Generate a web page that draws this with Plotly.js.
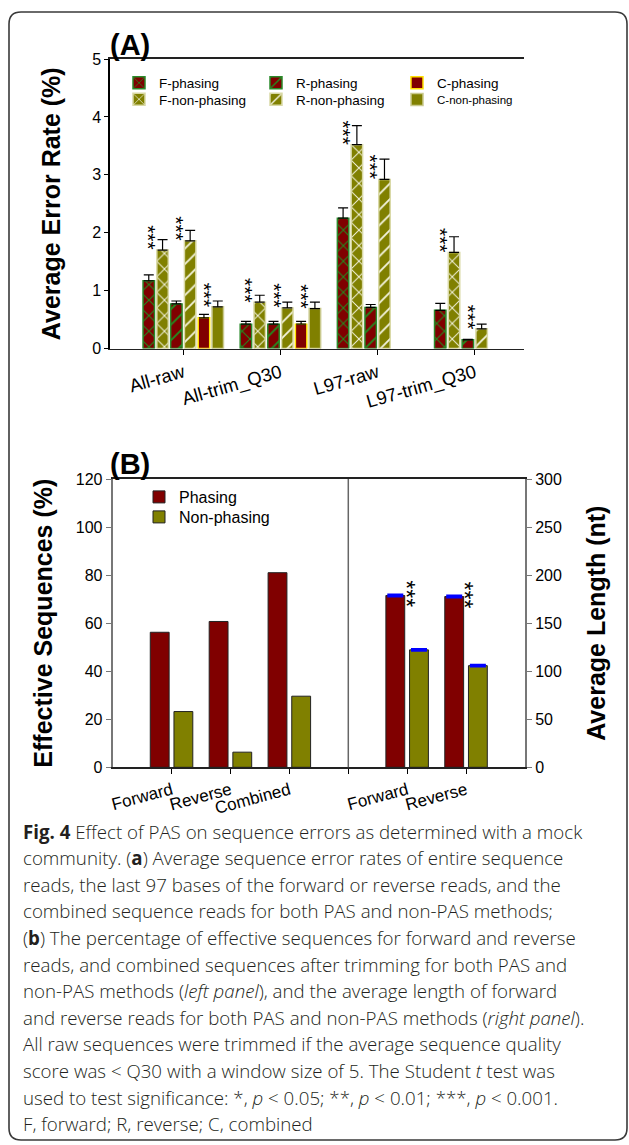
<!DOCTYPE html>
<html><head><meta charset="utf-8">
<script src="https://cdn.plot.ly/plotly-3.0.1.min.js"></script>
<style>html,body{margin:0;padding:0;background:#fff}</style>
</head><body><div id="chart" style="width:629px;height:1145px"></div>
<script>
// ---------- Panel A data ----------
const groupsA = ['All-raw', 'All-trim_Q30', 'L97-raw', 'L97-trim_Q30'];
const fPhasing = [1.17, 0.42, 2.25, 0.66];
const fPhasingErr = [0.10, 0.05, 0.18, 0.12];
const fNonPhasing = [1.70, 0.80, 3.52, 1.66];
const fNonPhasingErr = [0.18, 0.12, 0.33, 0.27];
const rPhasing = [0.77, 0.42, 0.71, 0.15];
const rPhasingErr = [0.05, 0.05, 0.05, 0.01];
const rNonPhasing = [1.86, 0.70, 2.92, 0.34];
const rNonPhasingErr = [0.18, 0.10, 0.35, 0.08];
const cPhasing = [0.53, 0.42, null, null];
const cPhasingErr = [0.06, 0.05, null, null];
const cNonPhasing = [0.72, 0.69, null, null];
const cNonPhasingErr = [0.10, 0.11, null, null];
const sigFNon = ['***', '***', '***', '***'];
const sigRNon = ['***', '***', '***', '***'];
const sigCNon = ['***', '***', '', ''];

// ---------- Panel B data ----------
const catsEff = ['Forward', 'Reverse', 'Combined'];
const effPhasing = [56.2, 60.7, 81.0];
const effNonPhasing = [23.2, 6.3, 29.6];
const catsLen = ['Forward', 'Reverse'];
const lenPhasing = [178.8, 177.7];
const lenPhasingErr = [1.0, 1.0];
const lenNonPhasing = [122.2, 105.8];
const lenNonPhasingErr = [1.0, 1.0];
const sigLen = ['***', '***'];

// ---------- Caption ----------
const captionLines = [
  '<b>Fig. 4</b> Effect of PAS on sequence errors as determined with a mock',
  'community. (<b>a</b>) Average sequence error rates of entire sequence',
  'reads, the last 97 bases of the forward or reverse reads, and the',
  'combined sequence reads for both PAS and non-PAS methods;',
  '(<b>b</b>) The percentage of effective sequences for forward and reverse',
  'reads, and combined sequences after trimming for both PAS and',
  'non-PAS methods (<i>left panel</i>), and the average length of forward',
  'and reverse reads for both PAS and non-PAS methods (<i>right panel</i>).',
  'All raw sequences were trimmed if the average sequence quality',
  'score was &lt; Q30 with a window size of 5. The Student <i>t</i> test was',
  'used to test significance: *, <i>p</i> &lt; 0.05; **, <i>p</i> &lt; 0.01; ***, <i>p</i> &lt; 0.001.',
  'F, forward; R, reverse; C, combined'
];

// ---------- helpers ----------
const W = 629, H = 1145;
const X = px => px / W;
const Y = py => 1 - py / H;
const FONT = 'Liberation Sans, Arial, sans-serif';
const RED = '#800000', OLIVE = '#808000';

const pitchA = 0.142, widthA = 0.118;
const xA = groupsA.map((_, i) => i);
const slotCenter = k => (k - 2.5) * pitchA;

function barA(name, vals, errs, k, legendId, fill, patShape, patColor, lineColor) {
  const t = {
    type: 'bar', name: name, x: xA, y: vals, xaxis: 'x', yaxis: 'y',
    width: widthA, offset: slotCenter(k) - widthA / 2,
    legend: legendId,
    marker: { color: fill, line: { color: lineColor, width: 1.5 } },
    error_y: { type: 'data', array: errs, arrayminus: vals.map(v => 0), symmetric: false,
               color: '#000', thickness: 1.2, width: 5 },
    hoverinfo: 'name+y'
  };
  if (patShape) {
    t.marker.pattern = { shape: patShape, fgcolor: patColor, bgcolor: fill, size: 11, solidity: 0.17, fillmode: 'replace' };
  }
  return t;
}

const traces = [
  barA('F-phasing', fPhasing, fPhasingErr, 0, 'legend', RED, 'x', '#1f8f1f', '#2a8a2a'),
  barA('F-non-phasing', fNonPhasing, fNonPhasingErr, 1, 'legend2', OLIVE, 'x', '#f4f4e0', '#d9d9a6'),
  barA('R-phasing', rPhasing, rPhasingErr, 2, 'legend3', RED, '/', '#1f8f1f', '#2a8a2a'),
  barA('R-non-phasing', rNonPhasing, rNonPhasingErr, 3, 'legend4', OLIVE, '/', '#f4f4e0', '#d9d9a6'),
  barA('C-phasing', cPhasing, cPhasingErr, 4, 'legend5', RED, null, null, '#ffe100'),
  barA('C-non-phasing', cNonPhasing, cNonPhasingErr, 5, 'legend6', OLIVE, null, null, '#c9c98e')
];

// Panel B
const xEff = catsEff.map((_, i) => i);
const dividerX = catsEff.length;
const xLen = catsLen.map((_, i) => dividerX + 1 + i);
const widthB = 0.32;
traces.push(
  { type: 'bar', name: 'Phasing', x: xEff, y: effPhasing, xaxis: 'x2', yaxis: 'y2',
    width: widthB, offset: -0.362, legend: 'legend7', legendgroup: 'ph',
    marker: { color: RED, line: { color: '#222', width: 1 } } },
  { type: 'bar', name: 'Non-phasing', x: xEff, y: effNonPhasing, xaxis: 'x2', yaxis: 'y2',
    width: widthB, offset: 0.04, legend: 'legend8', legendgroup: 'np',
    marker: { color: OLIVE, line: { color: '#222', width: 1 } } },
  { type: 'bar', name: 'Phasing', x: xLen, y: lenPhasing, xaxis: 'x2', yaxis: 'y3',
    width: widthB, offset: -0.362, showlegend: false, legendgroup: 'ph',
    marker: { color: RED, line: { color: '#222', width: 1 } },
    error_y: { type: 'data', array: lenPhasingErr, color: '#0000ff', thickness: 2, width: 8 } },
  { type: 'bar', name: 'Non-phasing', x: xLen, y: lenNonPhasing, xaxis: 'x2', yaxis: 'y3',
    width: widthB, offset: 0.04, showlegend: false, legendgroup: 'np',
    marker: { color: OLIVE, line: { color: '#222', width: 1 } },
    error_y: { type: 'data', array: lenNonPhasingErr, color: '#0000ff', thickness: 2, width: 8 } }
);

// ---------- annotations ----------
// significance stars: one real text "***" turned upright so the stars stack vertically
const annotations = [];
function addStars(xref, yref, x, y, sig, size, xshift, yshift) {
  annotations.push({
    xref: xref, yref: yref, x: x, y: y, text: sig, showarrow: false, textangle: 90,
    xanchor: 'center', yanchor: 'middle', xshift: xshift - 0.22 * size, yshift: yshift,
    font: { family: FONT, size: size, color: '#000' }
  });
}
[[fNonPhasing, sigFNon, 1], [rNonPhasing, sigRNon, 3], [cNonPhasing, sigCNon, 5]].forEach(([vals, sig, k]) => {
  vals.forEach((v, i) => { if (v !== null && sig[i]) addStars('x', 'y', xA[i] + slotCenter(k), v, sig[i], 21, -9, 12); });
});
lenPhasing.forEach((v, i) => { if (sigLen[i]) addStars('x2', 'y3', xLen[i], v, sigLen[i], 23, 3, 2); });

annotations.push(
  { xref: 'paper', yref: 'paper', x: X(108), y: Y(63), xanchor: 'left', yanchor: 'bottom', showarrow: false,
    text: '<b>(A)</b>', font: { family: FONT, size: 29, color: '#000' } },
  { xref: 'paper', yref: 'paper', x: X(108), y: Y(482), xanchor: 'left', yanchor: 'bottom', showarrow: false,
    text: '<b>(B)</b>', font: { family: FONT, size: 29, color: '#000' } }
);
captionLines.forEach((line, i) => annotations.push({
  xref: 'paper', yref: 'paper', x: X(21), y: Y(831 + i * 26.6), xanchor: 'left', yanchor: 'middle',
  showarrow: false, align: 'left', text: line,
  font: { family: 'Open Sans, Noto Sans, sans-serif', size: 18.7, weight: 300, color: '#231f20' }
}));

// ---------- shapes ----------
const bx0 = X(9), bx1 = X(627), by0 = Y(12), by1 = Y(1140);
const rx = 12 / W, ry = 12 / H;
const boxPath = `M${bx0 + rx},${by0} L${bx1 - rx},${by0} Q${bx1},${by0} ${bx1},${by0 - ry} ` +
  `L${bx1},${by1 + ry} Q${bx1},${by1} ${bx1 - rx},${by1} L${bx0 + rx},${by1} Q${bx0},${by1} ${bx0},${by1 + ry} ` +
  `L${bx0},${by0 - ry} Q${bx0},${by0} ${bx0 + rx},${by0} Z`;
const shapes = [
  { type: 'path', xref: 'paper', yref: 'paper', path: boxPath, line: { color: '#3a3a3a', width: 1.6 } },
  { type: 'line', xref: 'x2', yref: 'y2 domain', x0: dividerX, x1: dividerX, y0: 0, y1: 1,
    line: { color: '#666', width: 1.5 } }
];

const tickFont = { family: FONT, size: 16, color: '#000' };
const legFont = { family: FONT, size: 13.5, color: '#000' };
const legBase = { bgcolor: 'rgba(0,0,0,0)', borderwidth: 0, xanchor: 'left', yanchor: 'top',
                  font: legFont, itemwidth: 30, tracegroupgap: 0, itemclick: false };
const leg = (x, y, extra) => Object.assign({}, legBase, { x: X(x), y: Y(y) }, extra || {});
const legFontB = { font: { family: FONT, size: 16, color: '#000' } };

const layout = {
  width: W, height: H, margin: { l: 0, r: 0, t: 0, b: 0 },
  paper_bgcolor: '#fff', plot_bgcolor: '#fff', barmode: 'overlay', showlegend: true,
  font: { family: FONT, color: '#000' },
  xaxis: {
    domain: [X(110), X(524)], range: [-0.754, 3.507], anchor: 'y',
    tickmode: 'array', tickvals: xA, ticktext: groupsA, tickangle: -16,
    tickfont: { family: FONT, size: 18.5, color: '#000' },
    ticks: 'outside', ticklen: 5, tickcolor: '#000', tickwidth: 1.2,
    showline: true, linecolor: '#222', linewidth: 1.6, mirror: true,
    showgrid: false, zeroline: false, fixedrange: true
  },
  yaxis: {
    domain: [Y(348.5), Y(59)], range: [0, 5], anchor: 'x', dtick: 1,
    tickfont: tickFont, ticks: 'outside', ticklen: 4, tickcolor: '#000',
    showline: true, linecolor: '#000', linewidth: 1.6,
    showgrid: false, zeroline: false, fixedrange: true,
    title: { text: '<b>Average Error Rate (%)</b>', font: { family: FONT, size: 25, color: '#000' }, standoff: 24 }
  },
  xaxis2: {
    domain: [X(112.7), X(525)], range: [-1, 6], anchor: 'y2',
    tickmode: 'array', tickvals: [...xEff, dividerX, ...xLen], ticktext: [...catsEff, '', ...catsLen],
    tickangle: -15, tickfont: { family: FONT, size: 17, color: '#000' },
    ticks: 'outside', ticklen: 5, tickcolor: '#000', tickwidth: 1.2,
    showline: true, linecolor: '#222', linewidth: 1.6, mirror: true,
    showgrid: false, zeroline: false, fixedrange: true
  },
  yaxis2: {
    domain: [Y(767.3), Y(479)], range: [0, 120], anchor: 'x2', dtick: 20,
    tickfont: tickFont, ticks: 'outside', ticklen: 5, tickcolor: '#777',
    showline: true, linecolor: '#777', linewidth: 2,
    showgrid: false, zeroline: false, fixedrange: true,
    title: { text: '<b>Effective Sequences (%)</b>', font: { family: FONT, size: 25, color: '#000' }, standoff: 16 }
  },
  yaxis3: {
    domain: [Y(767.3), Y(479)], range: [0, 300], anchor: 'x2', overlaying: 'y2', side: 'right', dtick: 50,
    tickfont: tickFont, ticks: 'outside', ticklen: 5, tickcolor: '#777',
    showline: true, linecolor: '#777', linewidth: 2,
    showgrid: false, zeroline: false, fixedrange: true,
    title: { text: '<b>Average Length (nt)</b>', font: { family: FONT, size: 25, color: '#000' }, standoff: 27 }
  },
  legend: leg(119, 67.5),
  legend2: leg(119, 84),
  legend3: leg(256, 67.5),
  legend4: leg(256, 84),
  legend5: leg(397, 67.5),
  legend6: leg(397, 85, { font: { family: FONT, size: 11.5, color: '#000' } }),
  legend7: leg(139, 480, legFontB),
  legend8: leg(139, 500, legFontB),
  annotations: annotations,
  shapes: shapes
};

Plotly.newPlot('chart', traces, layout, { displayModeBar: false, staticPlot: true });
</script>
</body></html>
